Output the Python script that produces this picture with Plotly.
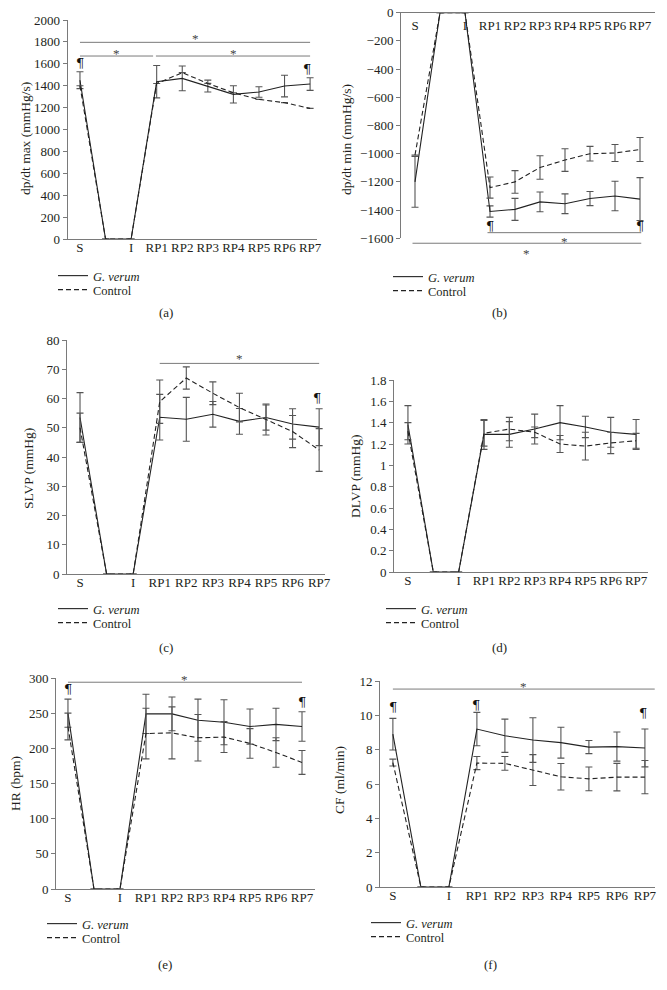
import plotly.graph_objects as go

# ---------------- data ----------------
cats = ["S", "", "I", "RP1", "RP2", "RP3", "RP4", "RP5", "RP6", "RP7"]
pos = list(range(len(cats)))

# (a) dp/dt max (mmHg/s)
a_gv = [1450, 0, 0, 1437, 1467, 1397, 1321, 1342, 1397, 1415]
a_gv_err = [77, None, None, 148, 113, 54, 79, 48, 99, 58]
a_ct = [1400, 0, 0, 1420, 1519, 1421, 1336, 1275, 1245, 1193]
a_ct_err = [None] * 10

# (b) dp/dt min (mmHg/s)
b_gv = [-1200, 0, 0, -1410, -1395, -1342, -1355, -1318, -1300, -1322]
b_gv_err = [180, None, None, 40, 78, 70, 70, 50, 105, 152]
b_ct = [-1010, 0, 0, -1240, -1200, -1098, -1045, -1000, -995, -970]
b_ct_err = [None, None, None, 75, 80, 83, 80, 52, 60, 85]

# (c) SLVP (mmHg)
c_gv = [53.5, 0, 0, 53.6, 52.9, 54.6, 52.2, 53.5, 51.3, 50.2]
c_gv_err = [8.5, None, None, 7.8, 7.5, 4.4, 4.4, 4.3, 5.2, 6.3]
c_ct = [50, 0, 0, 58.9, 67, 61.8, 56.9, 52.8, 48.7, 42.4]
c_ct_err = [5, None, None, 7.4, 3.8, 3.9, 4.9, 5.3, 5.5, 7.3]

# (d) DLVP (mmHg)
d_gv = [1.38, 0, 0, 1.29, 1.29, 1.34, 1.40, 1.36, 1.31, 1.29]
d_gv_err = [0.18, None, None, 0.14, 0.12, 0.14, 0.16, 0.10, 0.14, 0.14]
d_ct = [1.32, 0, 0, 1.30, 1.34, 1.31, 1.20, 1.18, 1.21, 1.23]
d_ct_err = [0.08, None, None, 0.12, 0.11, 0.05, 0.08, 0.13, 0.10, 0.07]

# (e) HR (bpm)
e_gv = [250, 0, 0, 249, 249, 240, 237, 231, 234, 231]
e_gv_err = [20, None, None, 28, 24, 30, 32, 25, 23, 21]
e_ct = [231, 0, 0, 221, 222, 215, 216, 207, 194, 180]
e_ct_err = [19, None, None, 36, 37, 33, 22, 21, 21, 17]

# (f) CF (ml/min)
f_gv = [8.9, 0, 0, 9.2, 8.81, 8.56, 8.41, 8.15, 8.18, 8.1]
f_gv_err = [0.92, None, None, 0.97, 0.97, 1.3, 0.9, 0.38, 0.85, 1.1]
f_ct = [7.25, 0, 0, 7.22, 7.2, 6.81, 6.42, 6.3, 6.4, 6.4]
f_ct_err = [0.2, None, None, 0.38, 0.4, 0.9, 0.77, 0.69, 0.8, 0.97]

series_names = ["<i>G. verum</i>", "Control"]
y_titles = ["dp/dt max (mmHg/s)", "dp/dt min (mmHg/s)", "SLVP (mmHg)",
            "DLVP (mmHg)", "HR (bpm)", "CF (ml/min)"]
captions = ["(a)", "(b)", "(c)", "(d)", "(e)", "(f)"]

# significance bars: (x0, x1, y_line, star_y)
sig = {
    1: [(0, 9, 1796, 1854), (0, 2.86, 1671, 1726), (2.97, 9, 1671, 1726)],
    2: [(2.9, 9.05, -1560, -1600), (-0.1, 9.05, -1635, -1683)],
    3: [(3, 9, 72, 74.6)],
    5: [(0, 9, 294, 302)],
    6: [(0, 9.35, 11.53, 11.86)],
}
# paragraph marks (x, y)
para = {
    1: [(0, 1604), (8.87, 1550)],
    2: [(3.0, -1518), (9.0, -1518)],
    3: [(8.91, 60)],
    5: [(0, 283), (9, 265)],
    6: [(0, 10.47), (2.96, 10.6), (8.94, 10.1)],
}

# ---------------- layout geometry ----------------
W, H = 667, 990
FONT = "Liberation Serif, Times New Roman, serif"
TXT = "#231f20"
AXC = "#7a7a7a"
ERRC = "#555555"
LINEC = "#222222"
FS = 13


def px_x(v):
    return v / W


def px_y(v):
    return 1 - v / H


panels = [
    dict(vals=(a_gv, a_gv_err, a_ct, a_ct_err), xd=(67.7, 317), yd=(20, 239),
         xr=(-0.48, 9.27), yr=(0, 2000), dt=200, leg=(53, 276, 290), cap=(166, 313),
         tt=(25, 139)),
    dict(vals=(b_gv, b_gv_err, b_ct, b_ct_err), xd=(401, 655), yd=(12.7, 238.3),
         xr=(-0.56, 9.6), yr=(-1600, 0), dt=200, leg=(388, 277, 291), cap=(500, 313),
         tt=(346, 140)),
    dict(vals=(c_gv, c_gv_err, c_ct, c_ct_err), xd=(67, 325), yd=(340, 574),
         xr=(-0.49, 9.22), yr=(0, 80), dt=10, leg=(53, 609, 623), cap=(166, 647),
         tt=(28, 469)),
    dict(vals=(d_gv, d_gv_err, d_ct, d_ct_err), xd=(394, 648), yd=(380, 572),
         xr=(-0.55, 9.47), yr=(0, 1.8), dt=0.2, leg=(381, 609, 623), cap=(500, 647),
         tt=(355, 477)),
    dict(vals=(e_gv, e_gv_err, e_ct, e_ct_err), xd=(56, 315), yd=(678, 889),
         xr=(-0.46, 9.5), yr=(0, 300), dt=50, leg=(42, 924, 938), cap=(165, 964),
         tt=(15, 784)),
    dict(vals=(f_gv, f_gv_err, f_ct, f_ct_err), xd=(380, 655), yd=(681, 887),
         xr=(-0.46, 9.36), yr=(0, 12), dt=2, leg=(366, 923, 937), cap=(490, 964),
         tt=(339, 780)),
]

fig = go.Figure()
layout = dict(width=W, height=H, margin=dict(l=0, r=0, t=0, b=0, autoexpand=False),
              paper_bgcolor="white", plot_bgcolor="white",
              font=dict(family=FONT, size=FS, color=TXT), showlegend=True)

annotations = []
shapes = []

for i, p in enumerate(panels, start=1):
    sfx = "" if i == 1 else str(i)
    gv, gv_err, ct, ct_err = p["vals"]
    for k, (name, ys, errs, dash) in enumerate([(series_names[0], gv, gv_err, "solid"),
                                                (series_names[1], ct, ct_err, "5px,3px")]):
        li = 2 * (i - 1) + k + 1
        legname = "legend" if li == 1 else f"legend{li}"
        fig.add_trace(go.Scatter(
            x=pos, y=ys, mode="lines", name=name,
            line=dict(color=LINEC, width=1.1, dash=dash),
            error_y=dict(type="data", array=errs, visible=True, color=ERRC,
                         thickness=1.1, width=3.5),
            xaxis="x" + sfx, yaxis="y" + sfx, legend=legname,
            hoverinfo="skip"))
        layout[legname] = dict(
            x=px_x(p["leg"][0]), y=px_y(p["leg"][1 + k]), xanchor="left", yanchor="middle",
            bgcolor="rgba(0,0,0,0)", font=dict(family=FONT, size=12.5, color=TXT),
            itemwidth=30, tracegroupgap=0)

    xd = [px_x(p["xd"][0]), px_x(p["xd"][1])]
    yd = [px_y(p["yd"][1]), px_y(p["yd"][0])]
    top_axis = (i == 2)
    layout["xaxis" + sfx] = dict(
        domain=xd, range=list(p["xr"]), anchor="y" + sfx, automargin=False,
        tickmode="array", tickvals=pos, ticktext=cats,
        showticklabels=not top_axis,
        showgrid=False, zeroline=False, showline=True, linecolor=AXC, linewidth=1,
        ticks="", tickfont=dict(family=FONT, size=FS, color=TXT),
        side="top" if top_axis else "bottom", ticklabelstandoff=-4,
        fixedrange=True)
    if top_axis:
        # category labels of panel (b) sit just under the top axis line
        layout["xaxis7"] = dict(
            domain=xd, range=list(p["xr"]), overlaying="x2", anchor="free",
            position=px_y(20), side="bottom", automargin=False,
            tickmode="array", tickvals=pos, ticktext=cats,
            showgrid=False, zeroline=False, showline=False, ticks="",
            tickfont=dict(family=FONT, size=FS, color=TXT), ticklabelstandoff=-4,
            fixedrange=True)
        fig.add_trace(go.Scatter(x=[], y=[], xaxis="x7", yaxis="y2", mode="lines",
                                 showlegend=False, hoverinfo="skip"))
    layout["yaxis" + sfx] = dict(
        domain=yd, range=list(p["yr"]), anchor="x" + sfx, automargin=False,
        dtick=p["dt"], tick0=0, showgrid=False, zeroline=False,
        showline=True, linecolor=AXC, linewidth=1,
        ticks="outside", ticklen=4, tickcolor=AXC, ticklabeloverflow="allow",
        tickfont=dict(family=FONT, size=FS, color=TXT),
        fixedrange=True)

    # y-axis title
    annotations.append(dict(text=y_titles[i - 1], xref="paper", yref="paper",
                            x=px_x(p["tt"][0]), y=px_y(p["tt"][1]), textangle=-90,
                            showarrow=False, xanchor="center", yanchor="middle",
                            font=dict(family=FONT, size=13.5, color=TXT)))

    xr, yr = p["xr"], p["yr"]
    fx = lambda v: (v - xr[0]) / (xr[1] - xr[0])
    fy = lambda v: (v - yr[0]) / (yr[1] - yr[0])
    for (x0, x1, yl, ys) in sig.get(i, []):
        shapes.append(dict(type="line", xref=f"x{sfx} domain", yref=f"y{sfx} domain",
                           x0=fx(x0), x1=fx(x1), y0=fy(yl), y1=fy(yl),
                           line=dict(color=AXC, width=1)))
        annotations.append(dict(text="*", xref=f"x{sfx} domain", yref=f"y{sfx} domain",
                                x=fx((x0 + x1) / 2), y=fy(ys), showarrow=False,
                                xanchor="center", yanchor="middle", yshift=-3,
                                font=dict(family=FONT, size=13, color="#444444")))
    for (xp, yp) in para.get(i, []):
        annotations.append(dict(text="¶", xref=f"x{sfx} domain", yref=f"y{sfx} domain",
                                x=fx(xp), y=fy(yp), showarrow=False,
                                xanchor="center", yanchor="middle",
                                font=dict(family="DejaVu Serif", size=13, color="#111111")))
    annotations.append(dict(text=captions[i - 1], xref="paper", yref="paper",
                            x=px_x(p["cap"][0]), y=px_y(p["cap"][1]), showarrow=False,
                            xanchor="center", yanchor="middle",
                            font=dict(family=FONT, size=FS, color=TXT)))

layout["annotations"] = annotations
layout["shapes"] = shapes
fig.update_layout(**layout)
# remove the browser's default 8px page margin so the figure fills the window
fig.write_html("out.html", config={"displayModeBar": False},
               post_script="document.body.style.margin='0px';")
